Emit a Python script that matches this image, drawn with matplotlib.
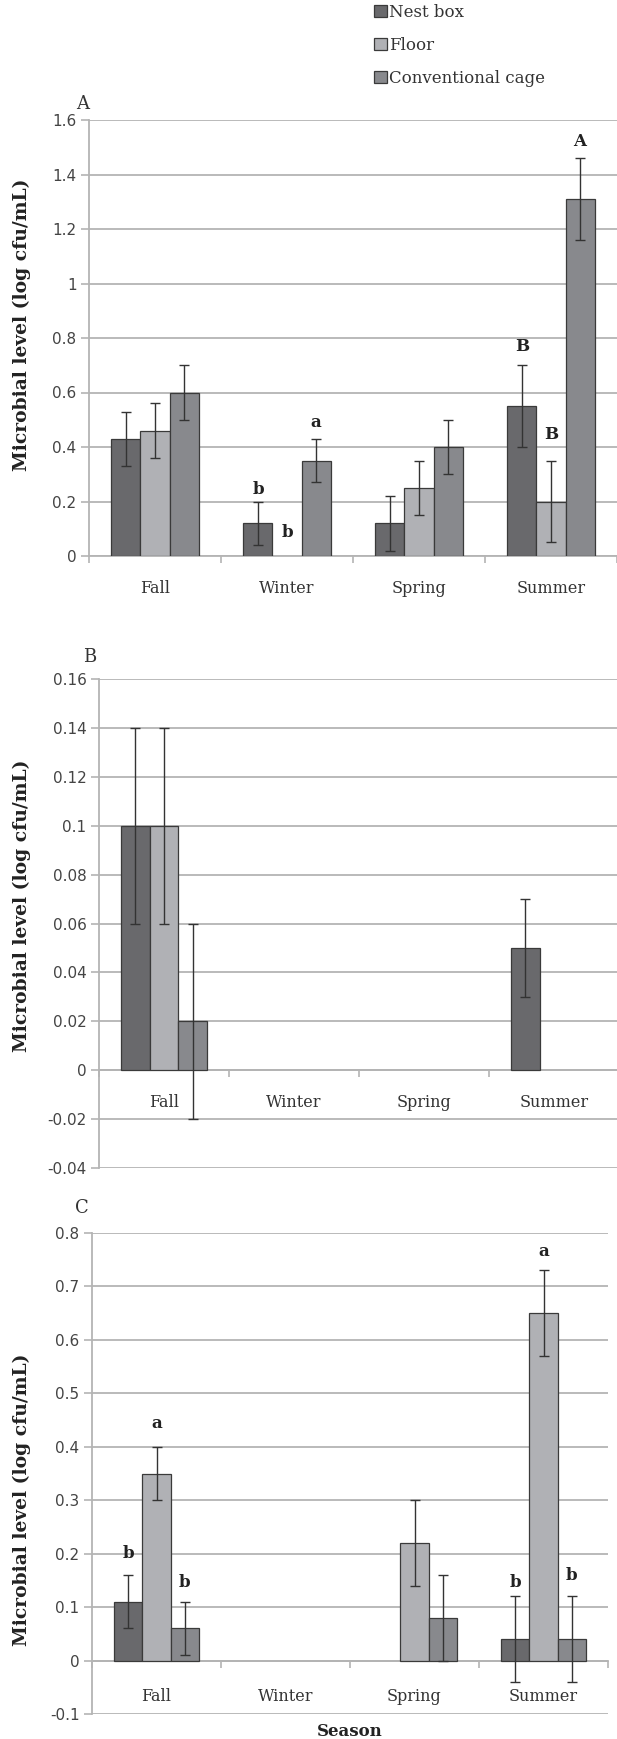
import matplotlib
matplotlib.use("Agg")
import matplotlib.pyplot as plt
import numpy as np

# ---------------- data ----------------
seasons = ["Fall", "Winter", "Spring", "Summer"]
series_names = ["Nest box", "Floor", "Conventional cage"]

# Panel A
a_nest = [0.43, 0.12, 0.12, 0.55]
a_floor = [0.46, 0.0, 0.25, 0.20]
a_cage = [0.60, 0.35, 0.40, 1.31]
a_nest_err = [0.10, 0.08, 0.10, 0.15]
a_floor_err = [0.10, 0.0, 0.10, 0.15]
a_cage_err = [0.10, 0.08, 0.10, 0.15]
a_ticks = [0, 0.2, 0.4, 0.6, 0.8, 1.0, 1.2, 1.4, 1.6]
a_ticklabels = ["0", "0.2", "0.4", "0.6", "0.8", "1", "1.2", "1.4", "1.6"]
# letters: (text, series index, season index, y)
a_letters = [("b", 0, 1, 0.245), ("b", 1, 1, 0.087), ("a", 2, 1, 0.49),
             ("B", 0, 3, 0.77), ("B", 1, 3, 0.446), ("A", 2, 3, 1.52)]

# Panel B
b_nest = [0.10, 0.0, 0.0, 0.05]
b_floor = [0.10, 0.0, 0.0, 0.0]
b_cage = [0.02, 0.0, 0.0, 0.0]
b_nest_err = [0.04, 0.0, 0.0, 0.02]
b_floor_err = [0.04, 0.0, 0.0, 0.0]
b_cage_err = [0.04, 0.0, 0.0, 0.0]
b_ticks = [-0.04, -0.02, 0, 0.02, 0.04, 0.06, 0.08, 0.10, 0.12, 0.14, 0.16]
b_ticklabels = ["-0.04", "-0.02", "0", "0.02", "0.04", "0.06", "0.08",
                "0.1", "0.12", "0.14", "0.16"]
b_letters = []

# Panel C
c_nest = [0.11, 0.0, 0.0, 0.04]
c_floor = [0.35, 0.0, 0.22, 0.65]
c_cage = [0.06, 0.0, 0.08, 0.04]
c_nest_err = [0.05, 0.0, 0.0, 0.08]
c_floor_err = [0.05, 0.0, 0.08, 0.08]
c_cage_err = [0.05, 0.0, 0.08, 0.08]
c_ticks = [-0.1, 0, 0.1, 0.2, 0.3, 0.4, 0.5, 0.6, 0.7, 0.8]
c_ticklabels = ["-0.1", "0", "0.1", "0.2", "0.3", "0.4", "0.5", "0.6", "0.7", "0.8"]
c_letters = [("b", 0, 0, 0.20), ("a", 1, 0, 0.443), ("b", 2, 0, 0.146),
             ("b", 0, 3, 0.146), ("a", 1, 3, 0.765), ("b", 2, 3, 0.159)]

# ---------------- style ----------------
plt.rcParams["font.family"] = ["DejaVu Serif"]
colors = ["#69696c", "#b0b1b5", "#88898d"]
edge = "#3a3a3a"
grid_c = "#b4b4b4"
W, H = 617, 1739
fig = plt.figure(figsize=(W / 100, H / 100), dpi=100)


def px_axes(left, top, right, bottom):
    return fig.add_axes([left / W, 1 - bottom / H, (right - left) / W, (bottom - top) / H])


def draw_panel(ax, vals, errs, ticks, ticklabels, letters, xpad):
    x = np.arange(len(seasons)) + 0.5
    bw = 0.22
    offs = [-bw, 0, bw]
    handles = []
    for k in range(3):
        v = np.array(vals[k])
        e = np.array(errs[k])
        mask = v != 0
        h = ax.bar(x[mask] + offs[k], v[mask], width=bw, color=colors[k],
                   edgecolor=edge, linewidth=0.9, zorder=3, label=series_names[k])
        handles.append(h)
        me = e != 0
        ax.errorbar(x[me] + offs[k], v[me], yerr=e[me], fmt="none", ecolor="#333333",
                    elinewidth=1.0, capsize=3.5, capthick=1.0, zorder=4)
    for txt, si, ci, yv in letters:
        ax.text(x[ci] + offs[si], yv, txt, ha="center", va="center",
                fontsize=12, fontweight="bold", color="#222222", zorder=5)
    ax.set_xlim(0, len(seasons))
    ax.set_ylim(ticks[0], ticks[-1])
    ax.set_yticks(ticks)
    ax.set_yticklabels(ticklabels)
    ax.yaxis.grid(True, color=grid_c, linewidth=1.3)
    ax.set_axisbelow(True)
    ax.set_xticks(x)
    ax.set_xticklabels(seasons)
    ax.set_xticks(np.arange(len(seasons) + 1), minor=True)
    ax.tick_params(axis="x", which="major", length=0, pad=xpad, labelsize=11.5,
                   labelcolor="#333333")
    ax.tick_params(axis="x", which="minor", length=5, width=1.2, color=grid_c, direction="out")
    ax.tick_params(axis="y", length=6, width=1.2, color=grid_c, labelsize=11,
                   labelcolor="#444444", pad=3)
    for t in ax.get_yticklabels():
        t.set_fontfamily("DejaVu Sans")
    for s in ["top", "right"]:
        ax.spines[s].set_visible(False)
    ax.spines["left"].set_color(grid_c)
    ax.spines["left"].set_linewidth(1.3)
    ax.spines["bottom"].set_position(("data", 0))
    ax.spines["bottom"].set_color(grid_c)
    ax.spines["bottom"].set_linewidth(1.3)
    return handles


axA = px_axes(89, 120, 617, 556)
hA = draw_panel(axA, [a_nest, a_floor, a_cage], [a_nest_err, a_floor_err, a_cage_err],
                a_ticks, a_ticklabels, a_letters, 17)
axB = px_axes(99, 679, 619, 1168)
draw_panel(axB, [b_nest, b_floor, b_cage], [b_nest_err, b_floor_err, b_cage_err],
           b_ticks, b_ticklabels, b_letters, 17)
axC = px_axes(92, 1233, 608, 1714)
draw_panel(axC, [c_nest, c_floor, c_cage], [c_nest_err, c_floor_err, c_cage_err],
           c_ticks, c_ticklabels, c_letters, 20)

# panel letters
for lab, xx, yy in [("A", 83, 104), ("B", 90, 657), ("C", 82, 1208)]:
    fig.text(xx / W, 1 - yy / H, lab, ha="center", va="center", fontsize=13,
             color="#333333")

# y labels
ylab = "Microbial level (log cfu/mL)"
for yy in [325, 906, 1500]:
    fig.text(22 / W, 1 - yy / H, ylab, rotation=90, ha="center", va="center",
             fontsize=13.5, fontweight="bold", color="#222222")

fig.text(350 / W, 1 - 1732 / H, "Season", ha="center", va="center", fontsize=12,
         fontweight="bold", color="#222222")

leg = fig.legend(handles=hA, labels=series_names, loc="upper left",
                 bbox_to_anchor=(374 / W, 1 - 4 / H), frameon=False,
                 prop={"size": 12}, handlelength=0.75, handleheight=0.75,
                 handletextpad=0.15, labelspacing=0.95, borderpad=0, borderaxespad=0)
for t in leg.get_texts():
    t.set_color("#333333")

fig.savefig("out.png", dpi=100)
